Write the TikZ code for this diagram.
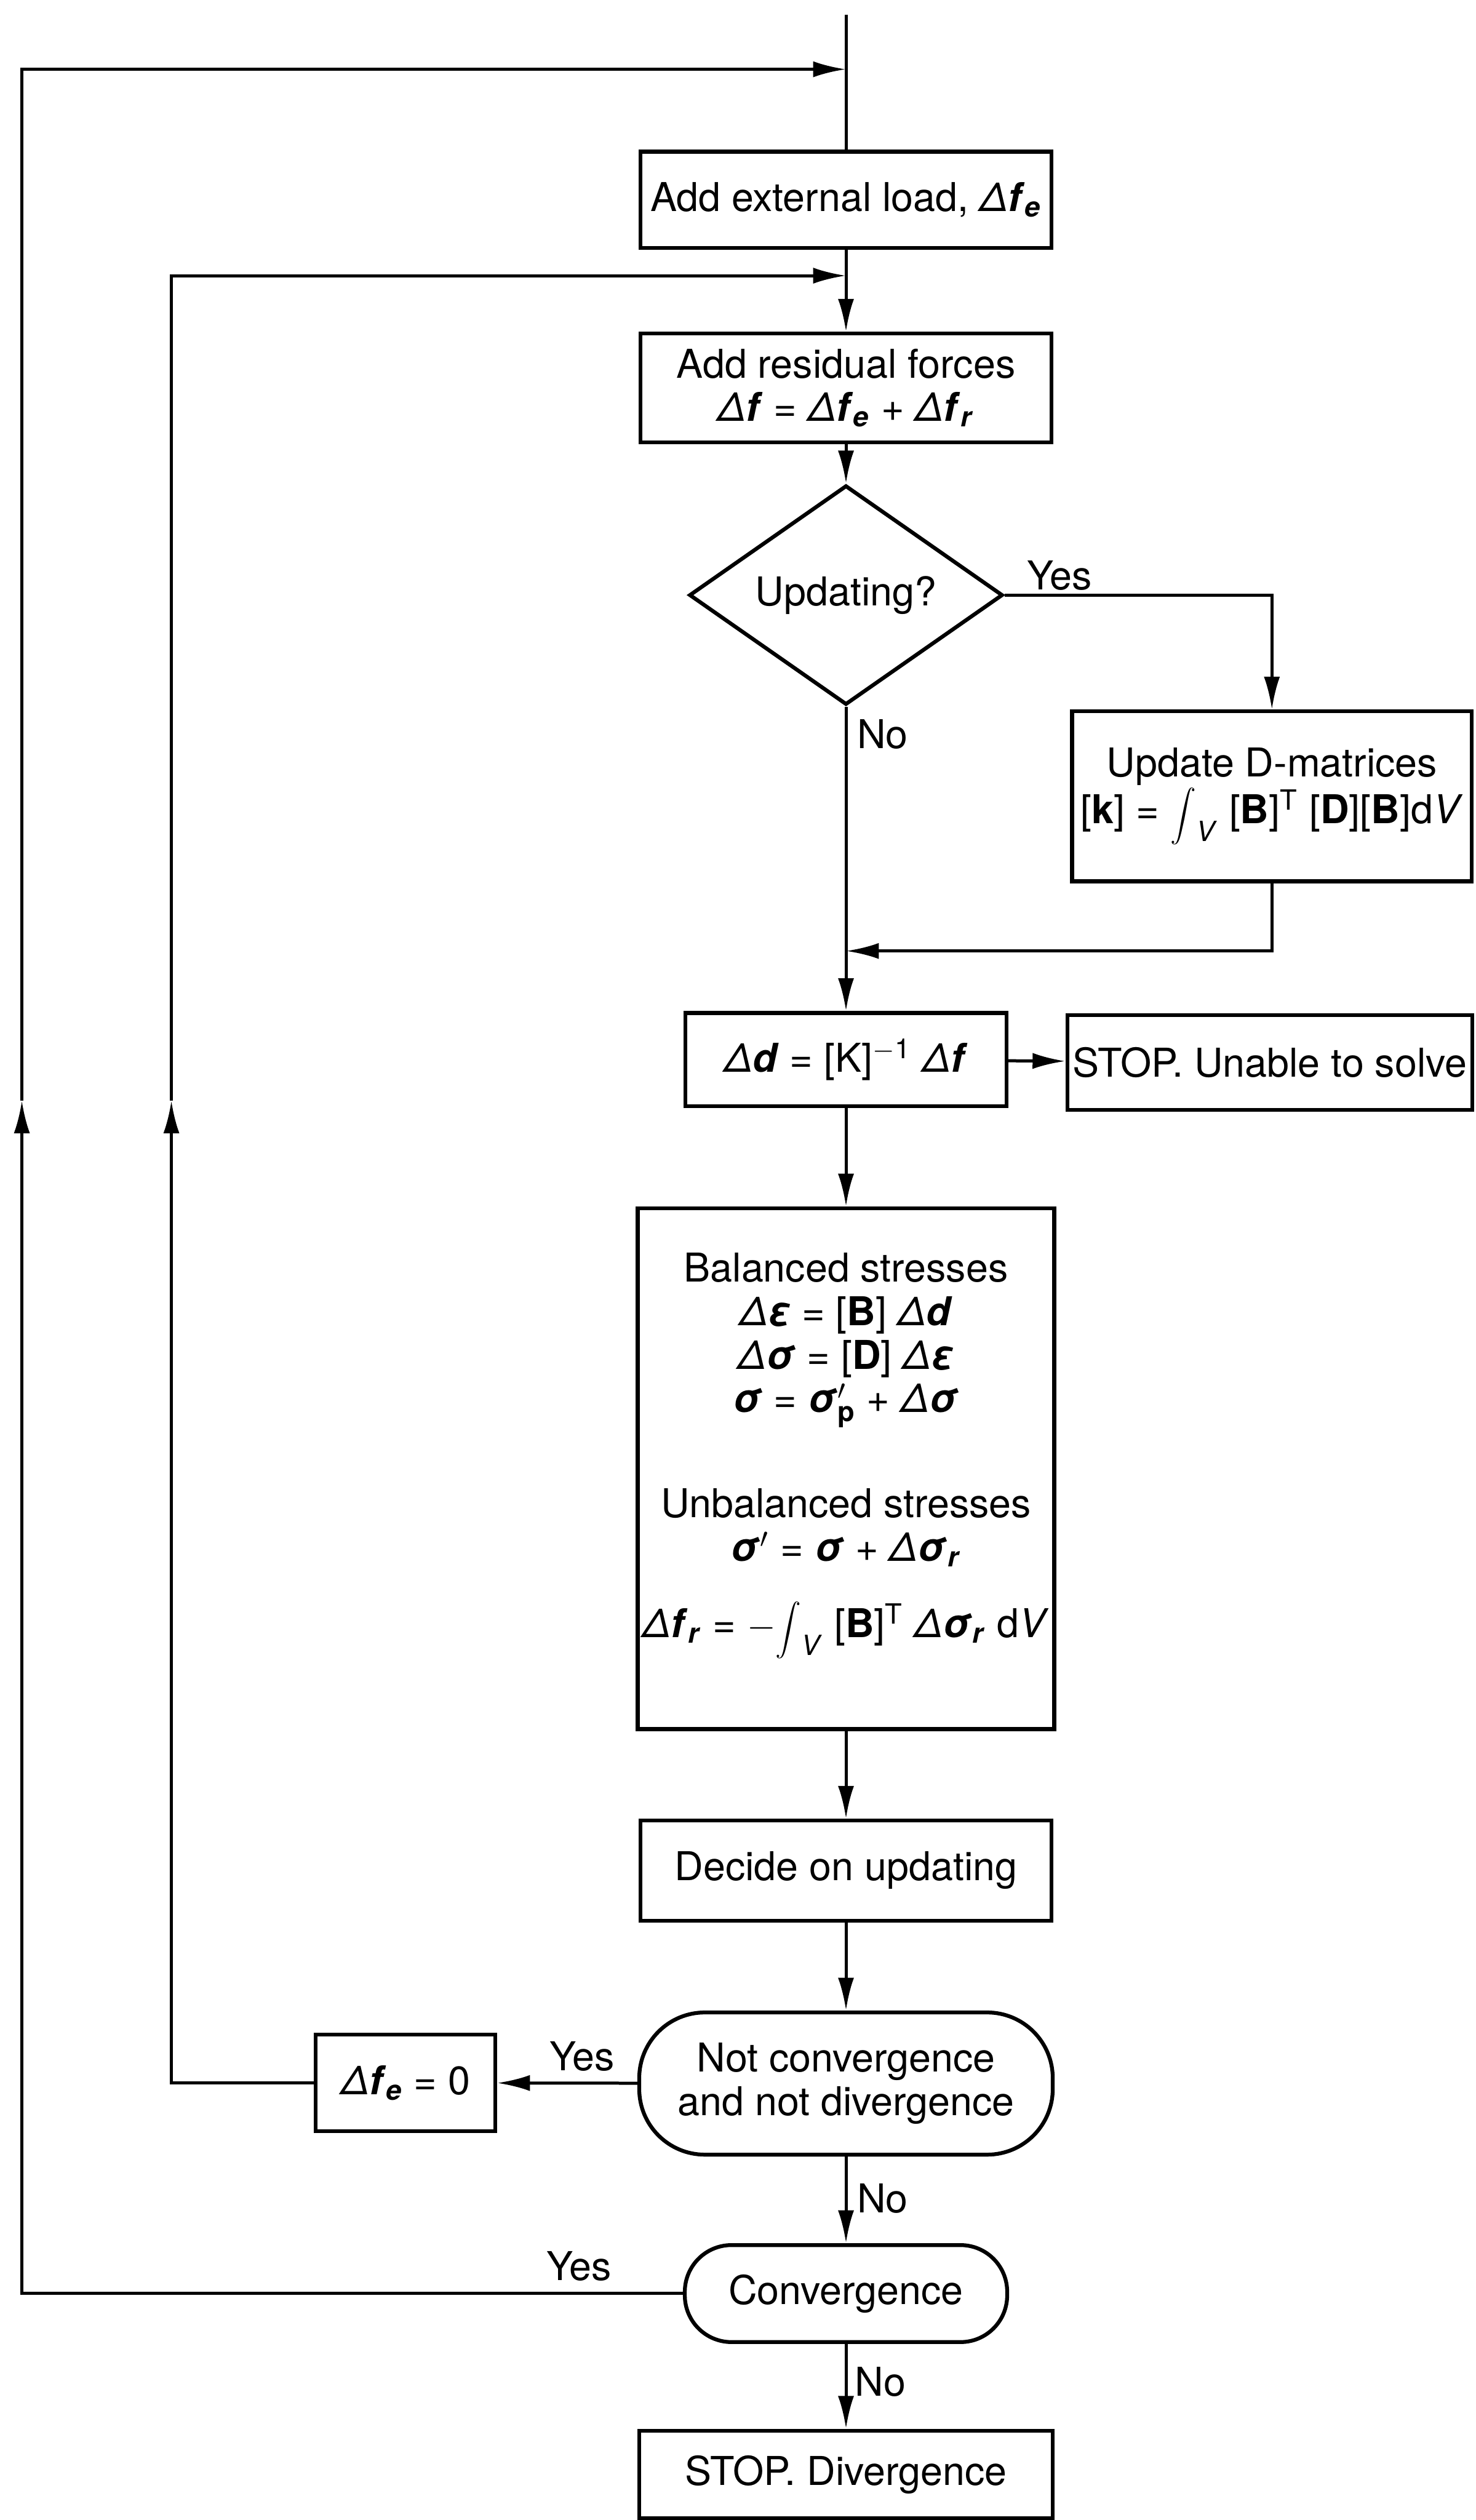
\documentclass[tikz,border=0pt]{standalone}
\usepackage{fontspec}
\setmainfont{TeX Gyre Heros}
\usetikzlibrary{arrows.meta,shapes.geometric}
\newcommand{\bv}[1]{\textbf{\textit{#1}}}
\newcommand{\dlt}{\textit{Δ}}
\newcommand{\intV}{{\fontsize{11}{11}\selectfont$\displaystyle\int$}\raisebox{-0.5ex}{\textsubscript{\textit{V}}}}

\begin{document}
\begin{tikzpicture}[
    fcBox/.style={draw,line width=1.5pt,align=center,inner sep=2pt},
    fcTerm/.style={fcBox,rounded corners=#1},
    fcDecision/.style={draw,line width=1.5pt,diamond,inner sep=0pt},
    fcLine/.style={line width=1.2pt},
    fcArrow/.style={fcLine,-{Latex[length=4.5mm,width=2.2mm]}},
    fcLabel/.style={inner sep=0pt},
    font=\fontsize{15.5}{17}\selectfont,
]
\useasboundingbox (0,0) rectangle (20.235,-34.555);
% Load steps
\node[fcBox,minimum width=5.64cm,minimum height=1.32cm] (extLoad) at (11.6,-2.74) {Add external load, \dlt\bv{f}\textsubscript{\bv{e}}};
\node[fcBox,minimum width=5.64cm,minimum height=1.49cm] (resForce) at (11.6,-5.32) {Add residual forces\\ \dlt\bv{f} = \dlt\bv{f}\textsubscript{\bv{e}} + \dlt\bv{f}\textsubscript{\bv{r}}};
% Stiffness update
\node[fcDecision,minimum width=4.3cm,minimum height=2.02cm] (updQ) at (11.6,-8.16) {Updating?};
\node[fcBox,minimum width=5.48cm,minimum height=2.33cm] (updD) at (17.44,-10.92) {Update D-matrices\\{}[\textbf{k}] = \intV\ [\textbf{B}]\textsuperscript{T} [\textbf{D}][\textbf{B}]d\textit{V}};
% Solve
\node[fcBox,minimum width=4.4cm,minimum height=1.28cm] (solve) at (11.6,-14.53) {\dlt\bv{d} = [K]\textsuperscript{$-$1} \dlt\bv{f}};
\node[fcBox,minimum width=5.54cm,minimum height=1.3cm] (noSolve) at (17.41,-14.57) {STOP. Unable to solve};
% Stresses
\node[fcBox,minimum width=5.63cm,minimum height=7.14cm] (stress) at (11.6,-20.14) {Balanced stresses\\
    \dlt\bv{ε} = [\textbf{B}] \dlt\bv{d}\\
    \dlt\bv{σ} = [\textbf{D}] \dlt\bv{ε}\\
    \bv{σ} = \bv{σ}$'_{\mathbf{p}}$ + \dlt\bv{σ}\\[0.8cm]
    Unbalanced stresses\\
    \bv{σ}$'$ = \bv{σ} + \dlt\bv{σ}\textsubscript{\bv{r}}\\[0.45cm]
    \dlt\bv{f}\textsubscript{\bv{r}} = $-$\intV\ [\textbf{B}]\textsuperscript{T} \dlt\bv{σ}\textsubscript{\bv{r}} d\textit{V}\\[0.05cm]
    \mbox{}};
% Checks
\node[fcBox,minimum width=5.64cm,minimum height=1.37cm] (decide) at (11.6,-25.65) {Decide on updating};
\node[fcTerm=0.9cm,minimum width=5.67cm,minimum height=1.95cm] (notConv) at (11.6,-28.57) {Not convergence\\and not divergence};
\node[fcBox,minimum width=2.46cm,minimum height=1.32cm] (zeroLoad) at (5.56,-28.56) {\dlt\bv{f}\textsubscript{\bv{e}} = 0};
\node[fcTerm=0.64cm,minimum width=4.42cm,minimum height=1.33cm] (conv) at (11.6,-31.45) {Convergence};
\node[fcBox,minimum width=5.67cm,minimum height=1.2cm] (stopDiv) at (11.6,-33.93) {STOP. Divergence};
% Branch labels
\node[fcLabel] (yesUpd) at (14.53,-7.89) {Yes};
\node[fcLabel] (noUpd) at (12.1,-10.07) {No};
\node[fcLabel] (yesZero) at (7.98,-28.2) {Yes};
\node[fcLabel] (noConv) at (12.1,-30.15) {No};
\node[fcLabel] (yesConv) at (7.94,-31.07) {Yes};
\node[fcLabel] (noDiv) at (12.07,-32.66) {No};
% Junctions
\coordinate (inTop) at (11.6,-0.2);
\coordinate (outerJoin) at (11.6,-0.95);
\coordinate (innerJoin) at (11.6,-3.78);
\coordinate (updJoin) at (11.6,-13.04);
\coordinate (outerMid) at (0.3,-15.09);
\coordinate (innerMid) at (2.35,-15.09);
% Main flow
\draw[fcLine] (inTop) -- (extLoad);
\draw[fcLine] (extLoad) -- (innerJoin);
\draw[fcArrow] (innerJoin) -- (resForce);
\draw[fcArrow] (resForce) -- (updQ);
\draw[fcArrow] (updQ.east) -| (updD);
\draw[fcArrow] (updQ) -- (solve);
\draw[fcArrow] (updD.south) |- (updJoin);
\draw[fcArrow] (solve) -- (noSolve);
\draw[fcArrow] (solve) -- (stress);
\draw[fcArrow] (stress) -- (decide);
\draw[fcArrow] (decide) -- (notConv);
\draw[fcArrow] (notConv) -- (zeroLoad);
\draw[fcArrow] (notConv) -- (conv);
\draw[fcArrow] (conv) -- (stopDiv);
% Inner loop
\draw[fcArrow] (zeroLoad.west) -| (innerMid);
\draw[fcArrow] (innerMid) |- (innerJoin);
% Outer loop
\draw[fcArrow] (conv.west) -| (outerMid);
\draw[fcArrow] (outerMid) |- (outerJoin);
\end{tikzpicture}
\end{document}
